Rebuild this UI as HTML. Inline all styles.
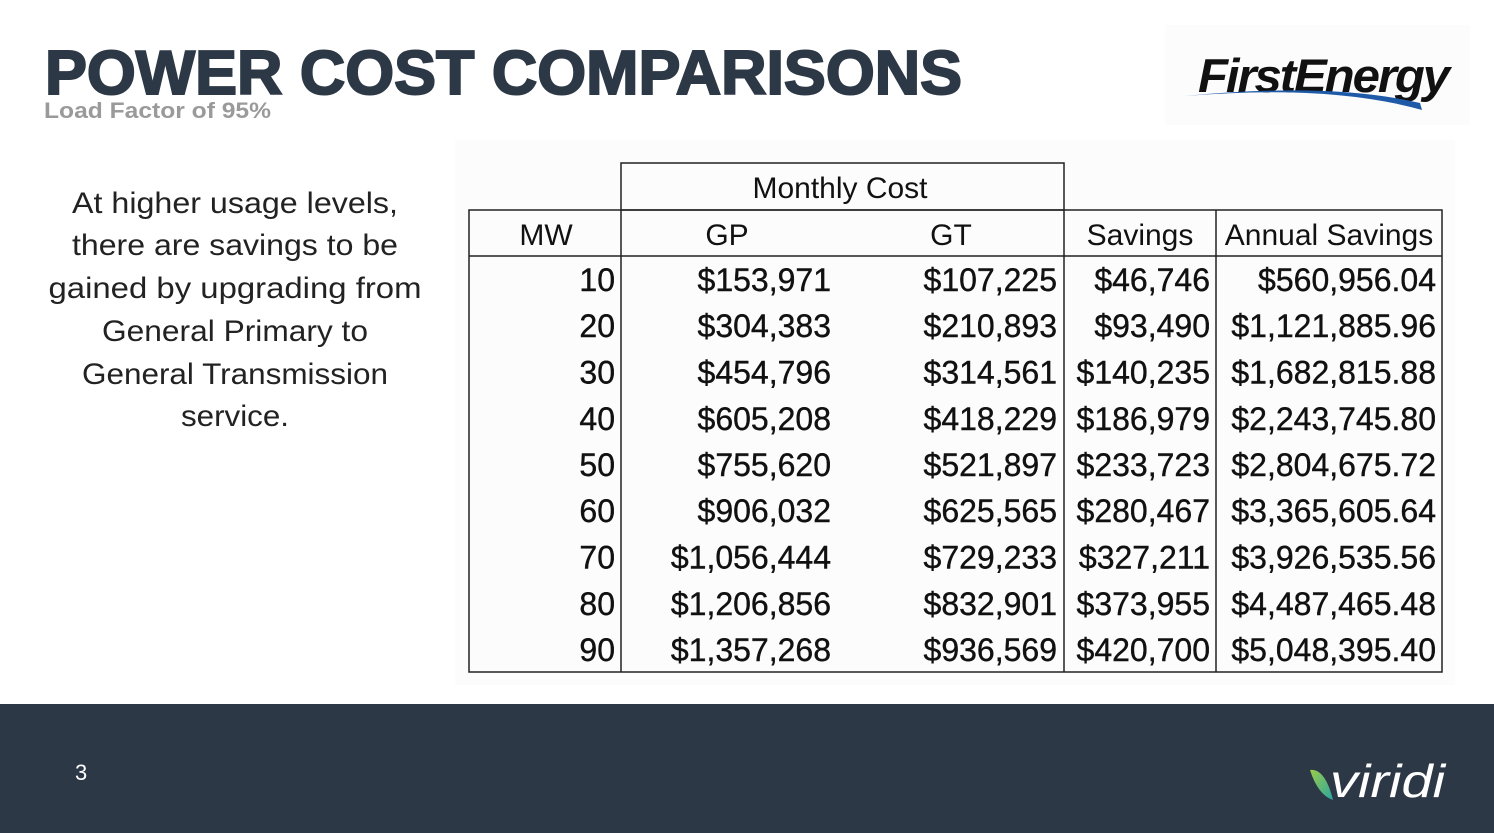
<!DOCTYPE html>
<html><head><meta charset="utf-8"><style>
html,body{margin:0;padding:0;background:#fff;}
svg{display:block;}
</style></head><body>
<svg width="1494" height="833" viewBox="0 0 1494 833" xmlns="http://www.w3.org/2000/svg" font-family="Liberation Sans, Arial, sans-serif">
<rect width="1494" height="833" fill="#fff"/>
<text x="45" y="94" font-size="62" font-weight="bold" fill="#2d3846" textLength="917" lengthAdjust="spacingAndGlyphs" stroke="#2d3846" stroke-width="2">POWER COST COMPARISONS</text>
<text x="44" y="118" font-size="22" font-weight="bold" fill="#9a9a9a" textLength="227" lengthAdjust="spacingAndGlyphs">Load Factor of 95%</text>
<rect x="1165" y="25" width="305" height="100" fill="#fcfcfc"/>
<text x="1198" y="92" font-size="47" font-weight="bold" font-style="italic" fill="#111" textLength="250" lengthAdjust="spacingAndGlyphs" letter-spacing="-2">FirstEnergy</text>
<path d="M1185 96 Q1330 84 1422 110 L1420 103 Q1330 82 1185 96 Z" fill="#1f5aa8"/>
<g font-size="30" fill="#222" text-anchor="middle">
<text x="235" y="213" textLength="326" lengthAdjust="spacingAndGlyphs">At higher usage levels,</text>
<text x="235" y="255" textLength="326" lengthAdjust="spacingAndGlyphs">there are savings to be</text>
<text x="235" y="298" textLength="373" lengthAdjust="spacingAndGlyphs">gained by upgrading from</text>
<text x="235" y="341" textLength="266" lengthAdjust="spacingAndGlyphs">General Primary to</text>
<text x="235" y="384" textLength="306" lengthAdjust="spacingAndGlyphs">General Transmission</text>
<text x="235" y="426" textLength="108" lengthAdjust="spacingAndGlyphs">service.</text>
</g>
<rect x="455" y="140" width="1000" height="545" fill="#fcfcfc"/>
<g stroke="#222" stroke-width="1.5" fill="none">
<rect x="621" y="163" width="443" height="47"/>
<rect x="469" y="210" width="973" height="462"/>
<line x1="469" y1="256" x2="1442" y2="256"/>
<line x1="621" y1="210" x2="621" y2="672"/>
<line x1="1064" y1="210" x2="1064" y2="672"/>
<line x1="1216" y1="210" x2="1216" y2="672"/>
</g>
<g font-size="30" fill="#111">
<text x="840" y="198" text-anchor="middle">Monthly Cost</text>
<text x="546" y="245" text-anchor="middle">MW</text>
<text x="727" y="245" text-anchor="middle">GP</text>
<text x="951" y="245" text-anchor="middle">GT</text>
<text x="1140" y="245" text-anchor="middle">Savings</text>
<text x="1329" y="245" text-anchor="middle">Annual Savings</text>
</g>
<g font-size="32" fill="#111" text-anchor="end" stroke="#111" stroke-width="0.4">
<g transform="translate(0,291)">
<text x="615" y="0">10</text><text x="831" y="0">$153,971</text><text x="1057" y="0">$107,225</text><text x="1210" y="0">$46,746</text><text x="1436" y="0">$560,956.04</text>
</g>
<g transform="translate(0,337)">
<text x="615" y="0">20</text><text x="831" y="0">$304,383</text><text x="1057" y="0">$210,893</text><text x="1210" y="0">$93,490</text><text x="1436" y="0">$1,121,885.96</text>
</g>
<g transform="translate(0,383.5)">
<text x="615" y="0">30</text><text x="831" y="0">$454,796</text><text x="1057" y="0">$314,561</text><text x="1210" y="0">$140,235</text><text x="1436" y="0">$1,682,815.88</text>
</g>
<g transform="translate(0,430)">
<text x="615" y="0">40</text><text x="831" y="0">$605,208</text><text x="1057" y="0">$418,229</text><text x="1210" y="0">$186,979</text><text x="1436" y="0">$2,243,745.80</text>
</g>
<g transform="translate(0,476)">
<text x="615" y="0">50</text><text x="831" y="0">$755,620</text><text x="1057" y="0">$521,897</text><text x="1210" y="0">$233,723</text><text x="1436" y="0">$2,804,675.72</text>
</g>
<g transform="translate(0,522)">
<text x="615" y="0">60</text><text x="831" y="0">$906,032</text><text x="1057" y="0">$625,565</text><text x="1210" y="0">$280,467</text><text x="1436" y="0">$3,365,605.64</text>
</g>
<g transform="translate(0,568.5)">
<text x="615" y="0">70</text><text x="831" y="0">$1,056,444</text><text x="1057" y="0">$729,233</text><text x="1210" y="0">$327,211</text><text x="1436" y="0">$3,926,535.56</text>
</g>
<g transform="translate(0,615)">
<text x="615" y="0">80</text><text x="831" y="0">$1,206,856</text><text x="1057" y="0">$832,901</text><text x="1210" y="0">$373,955</text><text x="1436" y="0">$4,487,465.48</text>
</g>
<g transform="translate(0,661)">
<text x="615" y="0">90</text><text x="831" y="0">$1,357,268</text><text x="1057" y="0">$936,569</text><text x="1210" y="0">$420,700</text><text x="1436" y="0">$5,048,395.40</text>
</g>
</g>
<rect x="0" y="704" width="1494" height="129" fill="#2d3846"/>
<text x="75" y="780" font-size="22" fill="#fff">3</text>
<defs><linearGradient id="lg" x1="0" y1="0" x2="1" y2="1"><stop offset="0" stop-color="#9ccc4a"/><stop offset="1" stop-color="#2aa6a0"/></linearGradient></defs>
<path d="M1310 770 Q1325 768 1333 800 Q1318 795 1310 770 Z" fill="url(#lg)"/>
<text x="1330" y="797" font-size="46" font-style="italic" fill="#fff" textLength="115" lengthAdjust="spacingAndGlyphs">viridi</text>
</svg>
</body></html>
